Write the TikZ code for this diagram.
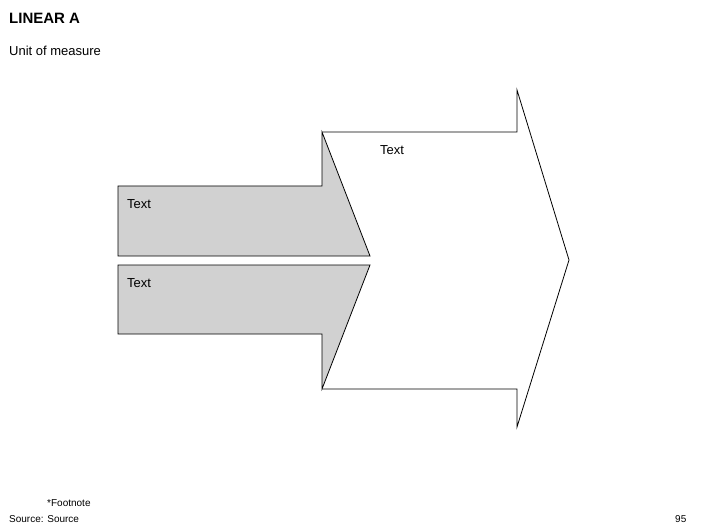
\documentclass[tikz,border=0pt]{standalone}
\usepackage{fontspec}
\setmainfont{Liberation Sans}
\begin{document}
\begin{tikzpicture}[x=1pt,y=-1pt,
  shp/.style={draw=black,line width=0.8pt,line join=miter},
  lbl/.style={anchor=west,inner sep=0pt,font=\fontsize{13}{15}\selectfont},
  foot/.style={anchor=west,inner sep=0pt,font=\fontsize{10}{12}\selectfont}]
\useasboundingbox[fill=white] (0,0) rectangle (706,529);
\draw[shp,fill=white] (322,132) -- (517,132) -- (517,90) -- (569,260) -- (517,427) -- (517,389) -- (322,389);
\draw[shp,fill=black!18] (118,186) -- (322,186) -- (322,132) -- (370,256) -- (118,256) -- cycle;
\draw[shp,fill=black!18] (118,265) -- (370,265) -- (322,389) -- (322,334) -- (118,334) -- cycle;
\node[lbl] (t1) at (380,150) {Text};
\node[lbl] (t2) at (127,204) {Text};
\node[lbl] (t3) at (127,283) {Text};
\node[anchor=west,inner sep=0pt,font=\fontsize{15}{17}\selectfont\bfseries] (title) at (9,18) {LINEAR A};
\node[lbl] (sub) at (9,51) {Unit of measure};
\node[foot] (fn) at (47,503) {*Footnote};
\node[foot] (src) at (9,519) {Source: Source};
\node[foot] (pg) at (675,519) {95};
\end{tikzpicture}
\end{document}
